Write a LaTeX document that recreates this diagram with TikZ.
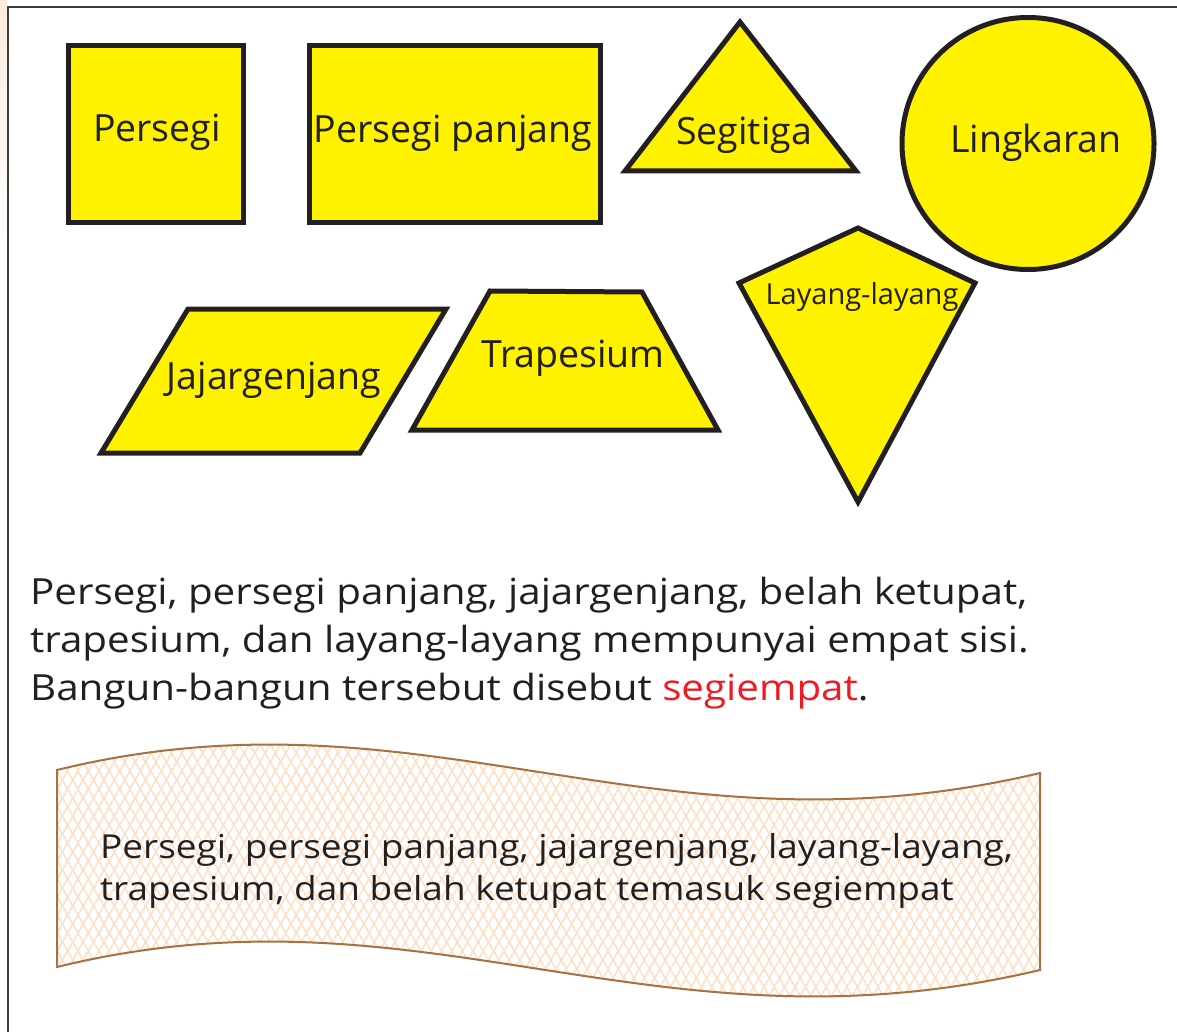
\documentclass[tikz,border=0pt]{standalone}
\usepackage{fontspec}
\setmainfont{Open Sans}
\newfontfamily\widefont[FakeStretch=1.12]{Open Sans}
\usetikzlibrary{patterns.meta}
\definecolor{shapeyellow}{HTML}{FFF200}
\definecolor{ink}{HTML}{231F20}
\definecolor{redtxt}{HTML}{ED1C24}
\definecolor{bannerline}{HTML}{A9713F}
\definecolor{hatch}{HTML}{FDE0C4}
\definecolor{framegray}{HTML}{3C3C3C}
\definecolor{cornerpeach}{HTML}{FCEBDD}
\begin{document}
\begin{tikzpicture}[x=1pt,y=-1pt,
  shapebox/.style={fill=shapeyellow,draw=ink,line width=5pt,line join=miter},
  lbl/.style={font=\fontsize{37.5}{44}\selectfont,text=ink,inner sep=0pt},
  smalllbl/.style={font=\fontsize{29}{34}\selectfont,text=ink,inner sep=0pt},
  body/.style={font=\widefont\fontsize{36}{44}\selectfont,text=ink,inner sep=0pt,anchor=base west},
  bantxt/.style={font=\widefont\fontsize{33}{40}\selectfont,text=ink,inner sep=0pt,anchor=base west}]
\useasboundingbox (0,0) rectangle (1177,1032);
\fill[white] (0,0) rectangle (1177,1032);
\shade[top color=cornerpeach,bottom color=white] (0,0) rectangle (7,240);
\draw[framegray,line width=2pt] (8,1032) -- (8,7) -- (1177,7);

% top row
\draw[shapebox] (68,46) rectangle (243,223);
\node[lbl] (persegi) at (157,132) {Persegi};
\draw[shapebox] (309,46) rectangle (600,223);
\node[lbl] (ppanjang) at (453,133) {Persegi panjang};
\draw[shapebox] (740,22) -- (856,171) -- (625,171) -- cycle;
\node[lbl] (segitiga) at (744,135) {Segitiga};
\draw[shapebox] (1028,143.5) circle[radius=126];
\node[lbl] (lingkaran) at (1036,143) {Lingkaran};

% second row
\draw[shapebox] (188,309) -- (446,309) -- (360,453) -- (101,453) -- cycle;
\node[lbl] (jajar) at (274,380) {Jajargenjang};
\draw[shapebox] (490,291) -- (642,292) -- (718,430) -- (412,430) -- cycle;
\node[lbl] (trapesium) at (573,358) {Trapesium};
\draw[shapebox] (858,228) -- (975,283) -- (858,502) -- (739,283) -- cycle;
\node[smalllbl] (layang) at (862,297) {Layang-layang};

% paragraph
\node[body] (l1) at (30,604) {Persegi, persegi panjang, jajargenjang, belah ketupat,};
\node[body] (l2) at (30,652) {trapesium, dan layang-layang mempunyai empat sisi.};
\node[body] (l3) at (30,700) {Bangun-bangun tersebut disebut \textcolor{redtxt}{segiempat}.};

% banner
\def\bannerpath{(57,770) .. controls (424,680) and (652,865) .. (1040,773)
  -- (1040,970) .. controls (652,1062) and (424,877) .. (57,967) -- cycle}
\path[pattern={Lines[angle=60,distance=9pt,line width=1.5pt]},pattern color=hatch] \bannerpath;
\path[pattern={Lines[angle=120,distance=9pt,line width=1.5pt]},pattern color=hatch] \bannerpath;
\draw[bannerline,line width=2pt,line join=miter] \bannerpath;
\node[bantxt] (b1) at (100,858) {Persegi, persegi panjang, jajargenjang, layang-layang,};
\node[bantxt] (b2) at (100,900) {trapesium, dan belah ketupat temasuk segiempat};
\end{tikzpicture}
\end{document}
